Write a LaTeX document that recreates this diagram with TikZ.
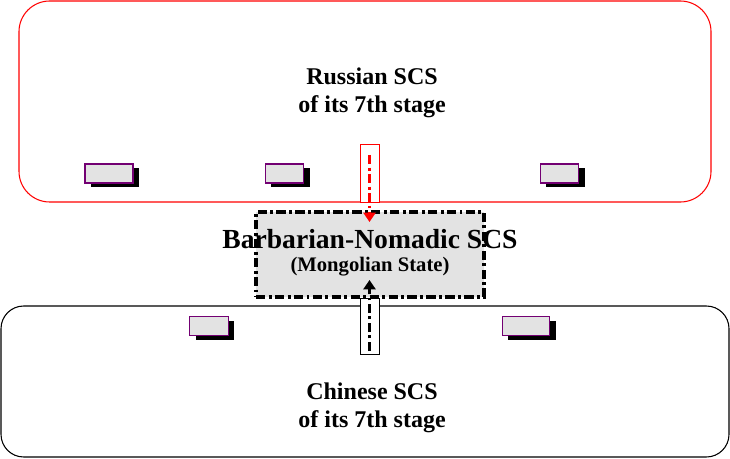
\documentclass[tikz,border=0pt]{standalone}
\usepackage{fontspec}
\setmainfont{Liberation Serif}
\usetikzlibrary{arrows.meta,shadows}
\begin{document}
\begin{tikzpicture}[x=0.75pt,y=-0.75pt,
    tag/.style={draw=violet!90!black,fill=gray!22,line width=0.9pt,inner sep=0pt,
      drop shadow={shadow xshift=4.5pt,shadow yshift=-3pt,fill=black,opacity=1}},
    slot/.style={draw,fill=white,line width=0.75pt,minimum width=14.25pt,inner sep=0pt},
    dashdot/.style={line width=2.6pt,dash pattern=on 7pt off 2.5pt on 2.2pt off 2.5pt}]
    \useasboundingbox (0,0) rectangle (730,459);

    % Outer systems
    \node[draw=red,line width=0.8pt,rounded corners=23pt,minimum width=519pt,minimum height=150.75pt] (russia) at (365,101.5) {};
    \node[draw,line width=0.8pt,rounded corners=17pt,minimum width=546pt,minimum height=113.25pt] (china) at (365,381.5) {};

    % Texts of the outer systems
    \node[font=\bfseries\fontsize{18}{21}\selectfont,align=center] (russiatxt) at (372,93) {Russian SCS\\of its 7th stage};
    \node[font=\bfseries\fontsize{18}{21}\selectfont,align=center] (chinatxt) at (372,408) {Chinese SCS\\of its 7th stage};

    % Small units
    \node[tag,minimum width=36pt,minimum height=14.25pt] (r1) at (109,173.5) {};
    \node[tag,minimum width=29pt,minimum height=14.25pt] (r2) at (284.5,173.5) {};
    \node[tag,minimum width=29pt,minimum height=14.25pt] (r3) at (559.5,173.5) {};
    \node[tag,minimum width=29pt,minimum height=14.25pt] (c1) at (209,326) {};
    \node[tag,minimum width=35.5pt,minimum height=14.25pt] (c2) at (526,326) {};

    % Channels
    \node[slot,draw=red,minimum height=43pt] (rslot) at (369.5,173.5) {};
    \node[slot,minimum height=42pt] (cslot) at (369.5,326) {};

    % Middle system
    \node[fill=gray!22,draw,dashdot,minimum width=171pt,minimum height=63.75pt] (mongol) at (370,254.5) {};
    \node[font=\bfseries\fontsize{20.7}{24}\selectfont] (mongoltxt) at (370,239) {Barbarian-Nomadic SCS};
    \node[font=\bfseries\fontsize{15.5}{18}\selectfont] (mongolsub) at (370,267) {(Mongolian State)};

    % Connections
    \coordinate (rstart) at (369.5,155);
    \coordinate (rend) at (369.5,222);
    \coordinate (cstart) at (369.5,351);
    \coordinate (cend) at (369.5,280);
    \draw[red,dashdot,line width=2.4pt,-{Triangle[length=7pt,width=9pt]}] (rstart) -- (rend);
    \draw[dashdot,line width=2.4pt,-{Triangle[length=7pt,width=9pt]}] (cstart) -- (cend);
\end{tikzpicture}
\end{document}
